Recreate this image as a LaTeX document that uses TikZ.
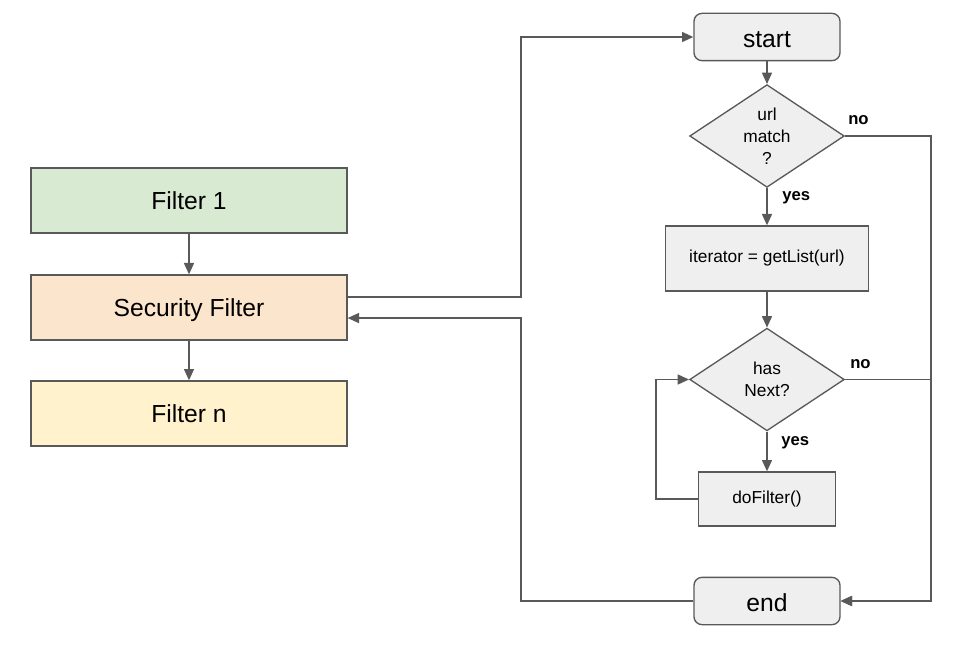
\documentclass[tikz,border=0pt]{standalone}
\usepackage{fontspec}
\setmainfont{Liberation Sans}
\usetikzlibrary{arrows.meta}
\usetikzlibrary{shapes.geometric}

\definecolor{lineGray}{HTML}{595959}
\definecolor{boxGray}{HTML}{EFEFEF}
\definecolor{filterGreen}{HTML}{D9EAD3}
\definecolor{filterOrange}{HTML}{FCE5CD}
\definecolor{filterYellow}{HTML}{FFF2CC}

\tikzset{
  filterbox/.style={draw=lineGray, line width=1pt, minimum width=237pt, minimum height=48.75pt, text depth=0pt, font=\fontsize{18.5}{22}\selectfont},
  termbox/.style={draw=lineGray, fill=boxGray, line width=1pt, rounded corners=6pt, minimum width=109.5pt, minimum height=35.5pt, text height=16pt, text depth=0pt, font=\fontsize{18.5}{22}\selectfont},
  procbox/.style={draw=lineGray, fill=boxGray, line width=1pt, minimum height=48.75pt, font=\fontsize{13}{16.5}\selectfont},
  decision/.style={draw=lineGray, fill=boxGray, line width=1pt, diamond, shape aspect=1.5, inner sep=0pt, minimum width=116pt, minimum height=77pt, align=center, font=\fontsize{13}{16.5}\selectfont},
  answer/.style={font=\fontsize{12.5}{15}\selectfont\bfseries, inner sep=0pt, anchor=base west},
  flow/.style={draw=lineGray, line width=1.1pt, -{Triangle[length=8.5pt,width=7.5pt]}}
}

\begin{document}
\begin{tikzpicture}[x=0.75pt,y=0.75pt,yscale=-1,xscale=1]
\path[use as bounding box] (0,0) rectangle (972,656);

% filter chain
\node[filterbox, fill=filterGreen] (f1) at (189,200.5) {Filter 1};
\node[filterbox, fill=filterOrange] (sf) at (189,307.5) {Security Filter};
\node[filterbox, fill=filterYellow] (fn) at (189,413.5) {Filter n};

% flow chart
\node[termbox] (start) at (767,37) {start};
\node[decision] (um) at (767,136) {url\\match\\?};
\node[procbox, minimum width=152.25pt] (it) at (767,258.5) {iterator = getList(url)};
\node[decision] (hn) at (767,379.5) {has\\Next?};
\node[procbox, minimum width=102.75pt, minimum height=40.5pt] (df) at (767,499) {doFilter()};
\node[termbox] (end) at (767,601) {end};

% rails
\coordinate (lrail) at (521,0);
\coordinate (rrail) at (931,0);
\coordinate (loop) at (656,0);
\coordinate (sfout) at ([yshift=-7.9pt]sf.east);
\coordinate (sfin) at ([yshift=7.9pt]sf.east);

\draw[flow] (f1) -- (sf);
\draw[flow] (sf) -- (fn);
\draw[flow] (sfout) -| (lrail |- start.west) -- (start.west);
\draw[flow] (end.west) -| (lrail |- sfin) -- (sfin);

\draw[flow] (start) -- (um);
\draw[flow] (um) -- (it);
\draw[flow] (it) -- (hn);
\draw[flow] (hn) -- (df);
\draw[flow] (df.west) -| (loop |- hn.west) -- (hn.west);
\draw[flow] (um.east) -| (rrail |- end.east) -- (end.east);
\draw[flow] (hn.east) -| (rrail |- end.east) -- (end.east);

% labels
\node[answer] (umno) at ([shift={(3,-11)}]um.east) {no};
\node[answer] (umyes) at ([shift={(15,13)}]um.south) {yes};
\node[answer] (hnno) at ([shift={(5,-11)}]hn.east) {no};
\node[answer] (hnyes) at ([shift={(14,14)}]hn.south) {yes};

\end{tikzpicture}
\end{document}
